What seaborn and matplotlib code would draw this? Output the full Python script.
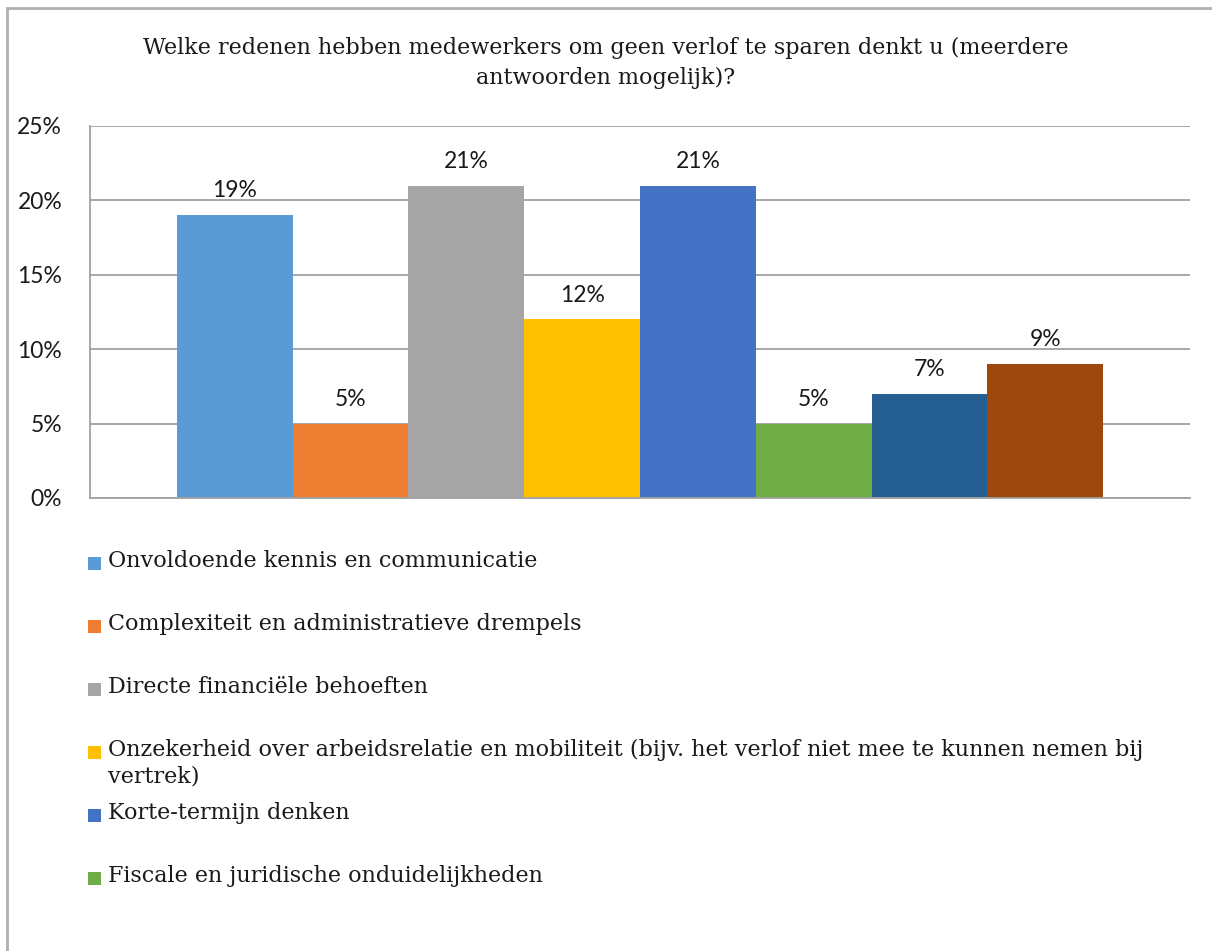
import matplotlib
matplotlib.use("Agg")
import matplotlib.pyplot as plt
from matplotlib.patches import Rectangle
from matplotlib.ticker import FuncFormatter
import seaborn as sns
import pandas as pd

# Survey answers (share of respondents, %)
reasons = [
    "Onvoldoende kennis en communicatie",
    "Complexiteit en administratieve drempels",
    "Directe financiële behoeften",
    "Onzekerheid over arbeidsrelatie en mobiliteit (bijv. het verlof niet mee te kunnen nemen bij\nvertrek)",
    "Korte-termijn denken",
    "Fiscale en juridische onduidelijkheden",
    "Reden 7",
    "Reden 8",
]
shares = [19, 5, 21, 12, 21, 5, 7, 9]
colors = ["#5B9BD5", "#ED7D31", "#A5A5A5", "#FFC000",
          "#4472C4", "#70AD47", "#255E91", "#9E480E"]
y_ticks = [0, 5, 10, 15, 20, 25]
title = ("Welke redenen hebben medewerkers om geen verlof te sparen denkt u (meerdere\n"
         "antwoorden mogelijk)?")
shown_in_legend = 6

W, H = 1212, 951
sns.set_theme(style="white")
plt.rcParams["font.family"] = ["Lato", "DejaVu Sans"]

fig = plt.figure(figsize=(W / 100, H / 100), dpi=100)
ax = fig.add_axes([90 / W, 1 - 498 / H, 1100 / W, 372 / H])

df = pd.DataFrame({"groep": ["alle"] * len(reasons), "reden": reasons, "aandeel": shares})
sns.barplot(data=df, x="groep", y="aandeel", hue="reden", hue_order=reasons,
            palette=colors, width=0.842, dodge=True, saturation=1,
            linewidth=0, legend=False, ax=ax)

for cont in ax.containers:
    ax.bar_label(cont, fmt="%d%%", padding=10, fontsize=16.5, color="#1a1a1a")

ax.set_xlim(-0.5, 0.5)
ax.set_ylim(0, 25)
ax.set_yticks(y_ticks)
ax.yaxis.set_major_formatter(FuncFormatter(lambda v, _: f"{v:.0f}%"))
ax.tick_params(axis="y", length=0, pad=20, labelsize=16.5, labelcolor="#1a1a1a")
ax.set_xticks([])
ax.set_xlabel("")
ax.set_ylabel("")
ax.yaxis.grid(True, color="#A0A0A0", linewidth=1.3)
ax.set_axisbelow(True)
for side in ("top", "right"):
    ax.spines[side].set_visible(False)
for side in ("left", "bottom"):
    ax.spines[side].set_color("#A0A0A0")
    ax.spines[side].set_linewidth(1.3)

fig.text(0.5, 1 - 37 / H, title, ha="center", va="top", fontsize=16,
         family="DejaVu Serif", color="#1a1a1a", linespacing=1.45)

# Legend below the plot area
for i in range(shown_in_legend):
    yc = 563 + 63 * i
    fig.patches.append(Rectangle((88 / W, 1 - (yc + 6.5) / H), 13 / W, 13 / H,
                                 transform=fig.transFigure, facecolor=colors[i],
                                 edgecolor="none"))
    fig.text(108 / W, 1 - (yc - 13) / H, reasons[i], ha="left", va="top",
             fontsize=16.0, family="DejaVu Serif", color="#1a1a1a", linespacing=1.27)

# Chart frame
fig.patches.append(Rectangle((7 / W, -0.1), 1.2, 1.1 - 8 / H,
                             transform=fig.transFigure, facecolor="none",
                             edgecolor="#B0B0B0", linewidth=2))

fig.savefig("out.png", dpi=100)
